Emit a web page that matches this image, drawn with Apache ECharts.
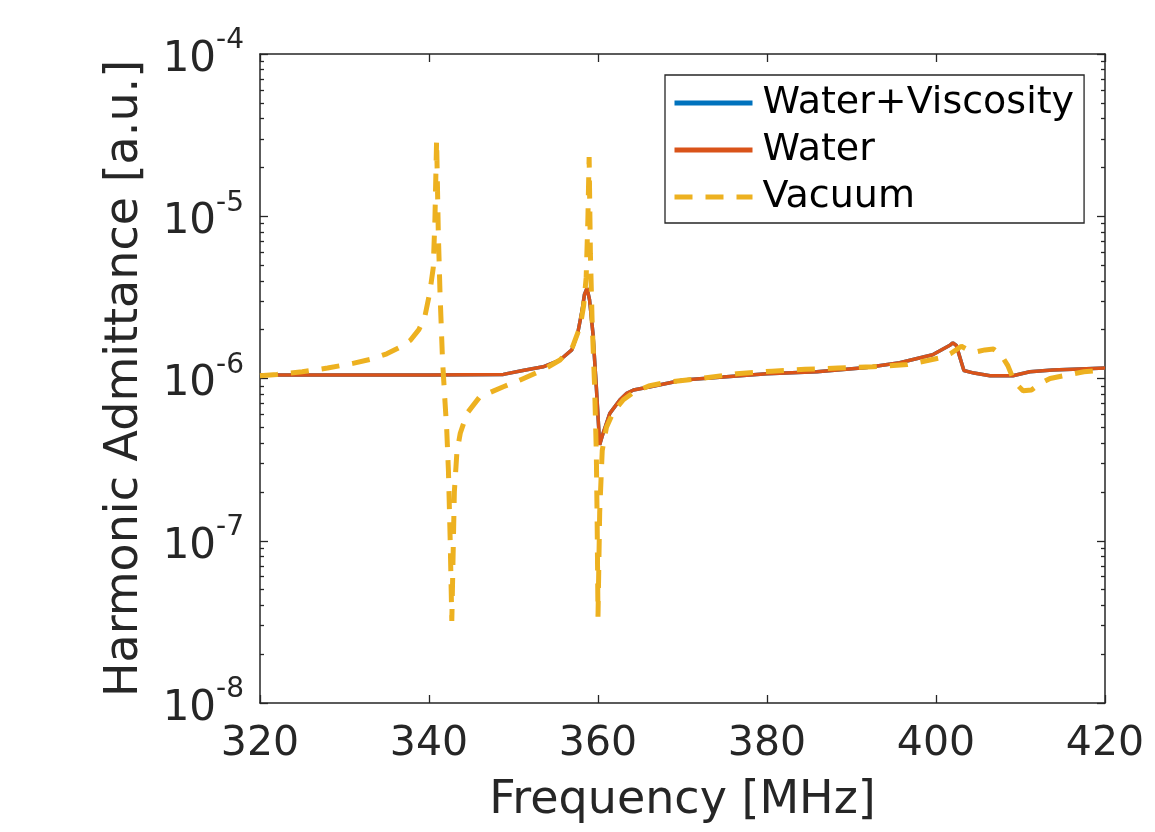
<!DOCTYPE html>
<html>
<head>
<meta charset="utf-8">
<script src="https://cdn.jsdelivr.net/npm/echarts@6/dist/echarts.min.js"></script>
<style>
html,body{margin:0;padding:0;background:#fff;}
#chart{width:1155px;height:832px;}
</style>
</head>
<body>
<div id="chart"></div>
<script>
// ---- data ----
const seriesNames = ['Water+Viscosity', 'Water', 'Vacuum'];

const freqViscous = [320, 330, 340, 348.8, 351.1, 353.5, 355.5, 356.9, 357.6, 358.1, 358.4, 358.7, 359.0, 359.4, 359.8, 360.2, 360.6, 361.4, 362.6, 363.4, 364.2, 366.2, 370.1, 374.8, 380.0, 385.9, 391.8, 395.7, 399.6, 401.7, 402.0, 402.4, 403.3, 404.5, 406.4, 409.1, 411.1, 413.8, 417.8, 420];
const admViscous = [1.05e-6, 1.05e-6, 1.05e-6, 1.06e-6, 1.12e-6, 1.18e-6, 1.3e-6, 1.5e-6, 1.9e-6, 2.6e-6, 3.3e-6, 3.6e-6, 3.05e-6, 1.9e-6, 8.9e-7, 3.9e-7, 4.6e-7, 6.1e-7, 7.4e-7, 8.1e-7, 8.5e-7, 8.9e-7, 9.8e-7, 1.02e-6, 1.07e-6, 1.1e-6, 1.17e-6, 1.25e-6, 1.4e-6, 1.61e-6, 1.66e-6, 1.6e-6, 1.12e-6, 1.08e-6, 1.04e-6, 1.04e-6, 1.1e-6, 1.13e-6, 1.15e-6, 1.16e-6];

const freqWater = [320, 330, 340, 348.8, 351.1, 353.5, 355.5, 356.9, 357.6, 358.1, 358.4, 358.7, 359.0, 359.4, 359.8, 360.2, 360.6, 361.4, 362.6, 363.4, 364.2, 366.2, 370.1, 374.8, 380.0, 385.9, 391.8, 395.7, 399.6, 401.7, 402.0, 402.4, 403.3, 404.5, 406.4, 409.1, 411.1, 413.8, 417.8, 420];
const admWater = [1.05e-6, 1.05e-6, 1.05e-6, 1.06e-6, 1.12e-6, 1.18e-6, 1.3e-6, 1.5e-6, 1.9e-6, 2.6e-6, 3.3e-6, 3.6e-6, 3.05e-6, 1.9e-6, 8.9e-7, 3.9e-7, 4.6e-7, 6.1e-7, 7.4e-7, 8.1e-7, 8.5e-7, 8.9e-7, 9.8e-7, 1.02e-6, 1.07e-6, 1.1e-6, 1.17e-6, 1.25e-6, 1.4e-6, 1.61e-6, 1.66e-6, 1.6e-6, 1.12e-6, 1.08e-6, 1.04e-6, 1.04e-6, 1.1e-6, 1.13e-6, 1.15e-6, 1.16e-6];

const freqVacuum = [320, 322, 325, 328, 331, 333, 335, 336.5, 337.8, 338.8, 339.5, 340.1, 340.5, 340.7, 340.9, 341.1, 341.3, 341.6, 341.9, 342.1, 342.3, 342.5, 342.7, 343.0, 343.3, 343.7, 344.5, 346.0, 348.8, 350.8, 353.5, 355.5, 357.0, 357.9, 358.3, 358.6, 358.8, 358.95, 359.1, 359.3, 359.6, 359.8, 359.9, 360.0, 360.2, 360.5, 361.0, 361.8, 363.0, 364.2, 366.0, 368.2, 372.1, 376.4, 380.6, 384.5, 388.4, 392.5, 396.6, 399.0, 400.5, 401.7, 403.0, 403.8, 404.8, 405.8, 406.8, 407.7, 408.5, 409.3, 410.3, 411.3, 412.3, 413.5, 415.5, 417.5, 420];
const admVacuum = [1.04e-6, 1.06e-6, 1.1e-6, 1.16e-6, 1.24e-6, 1.31e-6, 1.42e-6, 1.55e-6, 1.72e-6, 2.0e-6, 2.4e-6, 3.4e-6, 4.8e-6, 9.5e-6, 2.95e-5, 8e-6, 3.4e-6, 1.3e-6, 7.1e-7, 4.8e-7, 2.7e-7, 1.05e-7, 3.2e-8, 2.0e-7, 3.5e-7, 4.6e-7, 6.1e-7, 7.7e-7, 8.9e-7, 9.8e-7, 1.13e-6, 1.3e-6, 1.57e-6, 2.1e-6, 2.8e-6, 4.2e-6, 9.5e-6, 2.32e-5, 5.9e-6, 2.3e-6, 8.9e-7, 3.5e-7, 1.3e-7, 3.4e-8, 1.5e-7, 3.6e-7, 5.0e-7, 6.2e-7, 7.4e-7, 8.2e-7, 9.0e-7, 9.5e-7, 1.0e-6, 1.07e-6, 1.11e-6, 1.14e-6, 1.16e-6, 1.18e-6, 1.22e-6, 1.29e-6, 1.34e-6, 1.42e-6, 1.58e-6, 1.5e-6, 1.46e-6, 1.5e-6, 1.52e-6, 1.4e-6, 1.2e-6, 9.5e-7, 8.4e-7, 8.5e-7, 9.3e-7, 1.0e-6, 1.05e-6, 1.1e-6, 1.13e-6];

const xTicks = [320, 340, 360, 380, 400, 420];
const yDecadeExponents = [-8, -7, -6, -5, -4];

// ---- helpers ----
const TXT = '#262626';
const FONT = 'DejaVu Sans';
const minorExp = [];
for (let d = -8; d < -4; d++) {
  for (let k = 2; k <= 9; k++) minorExp.push(d + Math.log10(k));
}
const pairs = (xs, ys) => xs.map((x, i) => [x, ys[i]]);

const chart = echarts.init(document.getElementById('chart'), null, {renderer: 'canvas'});

const helperY = (position, values, len, showLine) => ({
  type: 'value', position: position, min: -8, max: -4, interval: 1,
  axisLine: {show: showLine, onZero: false, lineStyle: {color: TXT, width: 1.5}},
  axisTick: {show: true, inside: true, length: len, customValues: values, lineStyle: {color: TXT, width: 1.3}},
  axisLabel: {show: false}, splitLine: {show: false}
});

const option = {
  animation: false,
  backgroundColor: '#fff',
  textStyle: {fontFamily: FONT, color: TXT},
  grid: {left: 260, right: 50, top: 54, bottom: 129, containLabel: false, outerBoundsMode: 'none'},
  legend: {
    data: seriesNames,
    orient: 'vertical', left: 665, top: 75,
    itemWidth: 78, itemHeight: 20, itemGap: 7,
    padding: [8, 10, 6, 7],
    backgroundColor: '#fff', borderColor: TXT, borderWidth: 1.3, borderRadius: 0,
    itemStyle: {opacity: 0, borderWidth: 0},
    lineStyle: {width: 5},
    textStyle: {fontSize: 38, lineHeight: 40, color: '#000', fontFamily: FONT, padding: [0, 0, 0, 5]}
  },
  xAxis: [
    {
      type: 'value', position: 'bottom', min: xTicks[0], max: xTicks[xTicks.length - 1], interval: 20,
      name: 'Frequency [MHz]', nameLocation: 'middle', nameGap: 75,
      nameTextStyle: {fontSize: 46, color: TXT, fontFamily: FONT},
      axisLine: {show: true, onZero: false, lineStyle: {color: TXT, width: 1.5}},
      axisTick: {show: true, inside: true, length: 8, lineStyle: {color: TXT, width: 1.3}},
      axisLabel: {show: true, fontSize: 41, color: TXT, fontFamily: FONT, margin: 21, showMinLabel: true, showMaxLabel: true},
      splitLine: {show: false}
    },
    {
      type: 'value', position: 'top', min: xTicks[0], max: xTicks[xTicks.length - 1], interval: 20,
      axisLine: {show: true, onZero: false, lineStyle: {color: TXT, width: 1.5}},
      axisTick: {show: true, inside: true, length: 8, lineStyle: {color: TXT, width: 1.3}},
      axisLabel: {show: false}, splitLine: {show: false}
    }
  ],
  yAxis: [
    {
      type: 'log', logBase: 10, position: 'left', min: 1e-8, max: 1e-4, splitNumber: 4,
      name: 'Harmonic Admittance [a.u.]', nameLocation: 'middle', nameGap: 112, nameRotate: 90,
      nameTextStyle: {fontSize: 46, color: TXT, fontFamily: FONT},
      axisLine: {show: true, onZero: false, lineStyle: {color: TXT, width: 1.5}},
      axisTick: {show: true, inside: true, length: 8, lineStyle: {color: TXT, width: 1.3}},
      axisLabel: {
        show: true, margin: 16,
        formatter: function (v) {
          const e = Math.round(Math.log10(v));
          return '{b|10}{e|' + e + '}';
        },
        rich: {
          b: {fontSize: 42, color: TXT, fontFamily: FONT, padding: [12, 0, 0, 0]},
          e: {fontSize: 28, color: TXT, fontFamily: FONT, verticalAlign: 'top'}
        }
      },
      splitLine: {show: false}
    },
    helperY('left', minorExp, 4, false),
    helperY('right', yDecadeExponents, 8, true),
    helperY('right', minorExp, 4, false)
  ],
  series: [
    {
      name: seriesNames[0], type: 'line', xAxisIndex: 0, yAxisIndex: 0,
      data: pairs(freqViscous, admViscous), symbol: 'none', showSymbol: false, smooth: false,
      lineStyle: {color: '#0072BD', width: 3.5}, itemStyle: {color: '#0072BD'}
    },
    {
      name: seriesNames[1], type: 'line', xAxisIndex: 0, yAxisIndex: 0,
      data: pairs(freqWater, admWater), symbol: 'none', showSymbol: false, smooth: false,
      lineStyle: {color: '#D95319', width: 3.5}, itemStyle: {color: '#D95319'}
    },
    {
      name: seriesNames[2], type: 'line', xAxisIndex: 0, yAxisIndex: 0,
      data: pairs(freqVacuum, admVacuum), symbol: 'none', showSymbol: false, smooth: false,
      lineStyle: {color: '#EDB120', width: 5, type: [18, 13], cap: 'butt'}, itemStyle: {color: '#EDB120'}
    }
  ]
};
chart.setOption(option);
</script>
</body>
</html>
